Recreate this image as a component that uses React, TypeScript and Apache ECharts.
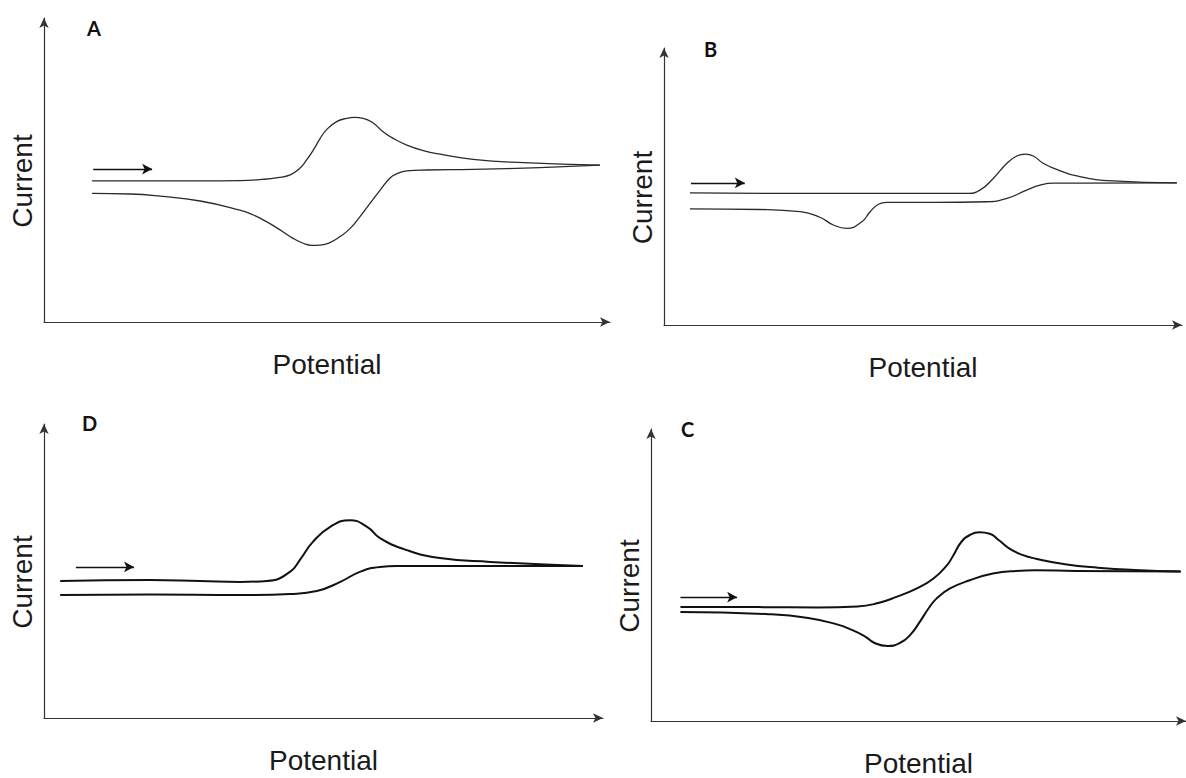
import React, { useEffect, useRef } from "react";
import * as echarts from "echarts";

// Panel A: [potential, current] in arbitrary units (0-100)
const aForward = [
  [8.5, 46.4], [18.7, 46.4], [27.6, 46.4], [34.6, 46.5], [38.5, 46.9], [41.3, 47.5],
  [43.5, 48.4], [45.2, 50.6], [46.4, 53.3], [47.6, 56.6], [48.8, 60.4], [49.9, 63.2],
  [51.7, 65.9], [53.5, 67.0], [54.9, 67.3], [56.4, 67.0], [58.2, 65.4], [59.9, 62.6],
  [61.7, 60.4], [64.1, 58.2], [67.0, 56.4], [70.0, 55.2], [75.8, 53.5], [84.7, 52.4],
  [98.2, 51.6],
];
const aReverse = [
  [98.2, 51.6], [87.6, 50.8], [75.8, 50.2], [67.6, 50.0], [64.1, 49.7], [62.3, 48.7],
  [61.1, 47.3], [59.4, 43.4], [57.6, 39.0], [55.8, 34.6], [54.1, 30.8], [52.3, 28.1],
  [50.5, 26.1], [48.8, 25.3], [47.3, 25.2], [45.8, 25.9], [44.0, 27.5], [41.7, 30.3],
  [39.3, 33.0], [37.0, 35.2], [34.6, 36.8], [27.6, 39.8], [20.5, 41.4], [15.2, 42.1],
  [8.5, 42.3],
];
const aArrow = [[8.7, 50.3], [19.1, 50.3]];

// Panel B
const bForward = [
  [5.0, 47.7], [22.4, 47.5], [41.7, 47.5], [58.4, 47.5], [61.0, 48.7], [63.6, 53.0],
  [66.2, 58.4], [68.1, 61.0], [69.7, 61.7], [71.3, 61.0], [73.2, 58.4], [75.8, 56.2],
  [79.7, 53.8], [86.7, 52.0], [99.0, 51.3],
];
const bReverse = [
  [99.0, 51.3], [80.3, 51.2], [75.2, 51.2], [72.6, 50.5], [70.0, 48.7], [66.2, 45.7],
  [62.3, 44.5], [52.0, 44.3], [43.0, 44.3], [41.4, 43.6], [39.8, 40.9], [38.2, 37.3],
  [35.3, 34.9], [32.7, 36.1], [30.1, 38.9], [26.3, 40.9], [18.5, 41.7], [5.0, 41.9],
];
const bArrow = [[5.2, 51.3], [15.6, 51.3]];

// Panel D
const dForward = [
  [2.9, 46.6], [19.0, 46.9], [27.9, 46.6], [35.1, 46.3], [39.9, 46.6], [44.0, 49.7],
  [46.0, 54.4], [48.1, 59.9], [51.2, 65.0], [54.7, 67.3], [57.8, 65.0], [60.1, 61.2],
  [64.9, 57.1], [70.8, 54.4], [79.8, 53.1], [96.4, 51.7],
];
const dReverse = [
  [96.4, 51.7], [63.1, 51.7], [60.1, 51.4], [56.5, 49.7], [53.0, 46.3], [48.8, 43.2],
  [44.0, 42.2], [35.1, 41.8], [19.0, 42.0], [2.9, 41.8],
];
const dArrow = [[5.7, 51.4], [16.1, 51.4]];

// Panel C
const cForward = [
  [5.5, 39.0], [20.1, 39.0], [31.2, 38.9], [38.6, 39.2], [42.3, 40.3], [46.0, 42.6],
  [49.7, 45.4], [52.8, 48.8], [55.3, 53.3], [56.5, 56.7], [58.0, 61.3], [59.6, 63.7],
  [61.4, 64.6], [63.3, 64.1], [65.1, 61.8], [67.0, 59.0], [69.4, 56.9], [71.9, 55.6],
  [77.4, 53.7], [83.5, 52.5], [90.4, 51.7], [99.0, 51.2],
];
const cReverse = [
  [99.0, 51.2], [79.3, 51.4], [71.9, 51.6], [68.2, 51.4], [63.9, 50.5], [59.6, 48.2],
  [55.9, 45.4], [53.4, 42.0], [51.9, 38.6], [50.3, 34.1], [48.5, 29.6], [46.6, 26.8],
  [44.2, 25.7], [41.7, 26.8], [39.9, 29.1], [37.4, 31.3], [34.9, 33.0], [29.4, 35.3],
  [22.0, 36.6], [5.5, 37.3],
];
const cArrow = [[5.5, 42.4], [16.1, 42.4]];

const panelLabels = ["A", "B", "D", "C"];
const xName = "Potential";
const yName = "Current";

const panels = [
  { label: panelLabels[0], forward: aForward, reverse: aReverse, arrow: aArrow,
    grid: { left: 44, top: 18, width: 566, height: 304 }, lw: 1.3, color: "#2a2a2a",
    labelPos: { left: 87, top: 18 } },
  { label: panelLabels[1], forward: bForward, reverse: bReverse, arrow: bArrow,
    grid: { left: 664, top: 48, width: 518, height: 277 }, lw: 1.3, color: "#2a2a2a",
    labelPos: { left: 704, top: 39 } },
  { label: panelLabels[2], forward: dForward, reverse: dReverse, arrow: dArrow,
    grid: { left: 44, top: 424, width: 559, height: 294 }, lw: 2, color: "#111",
    labelPos: { left: 82, top: 413 } },
  { label: panelLabels[3], forward: cForward, reverse: cReverse, arrow: cArrow,
    grid: { left: 651, top: 429, width: 541, height: 295 }, lw: 2, color: "#111",
    labelPos: { left: 681, top: 419 } },
];

export default function App() {
  const ref = useRef<HTMLDivElement>(null);
  useEffect(() => {
    if (!ref.current) return;
    const chart = echarts.init(ref.current, null, { renderer: "svg" });
    const axisLine = {
      show: true,
      onZero: false,
      symbol: ["none", "arrow"],
      symbolSize: [7, 10],
      lineStyle: { color: "#333", width: 1.2 },
    };
    const nameStyle = { fontFamily: "Liberation Sans, Arial, sans-serif", fontSize: 28, color: "#1a1a1a" };
    const option: any = {
      animation: false,
      backgroundColor: "#fff",
      title: panels.map((p) => ({
        text: p.label,
        left: p.labelPos.left,
        top: p.labelPos.top,
        padding: 0,
        textStyle: { fontFamily: "Lato, sans-serif", fontWeight: "bold", fontSize: 20, color: "#111" },
      })),
      grid: panels.map((p) => ({ ...p.grid, containLabel: false })),
      xAxis: panels.map((p, i) => ({
        type: "value", gridIndex: i, min: 0, max: 100,
        axisLine, axisTick: { show: false }, axisLabel: { show: false }, splitLine: { show: false },
        name: xName, nameLocation: "middle", nameGap: 28, nameTextStyle: nameStyle,
      })),
      yAxis: panels.map((p, i) => ({
        type: "value", gridIndex: i, min: 0, max: 100,
        axisLine, axisTick: { show: false }, axisLabel: { show: false }, splitLine: { show: false },
        name: yName, nameLocation: "middle", nameGap: 8,
        nameTextStyle: { ...nameStyle, padding: [0, 22, 0, 0] },
      })),
      series: panels.flatMap((p, i) => {
        const common = {
          type: "line", xAxisIndex: i, yAxisIndex: i, symbol: "none", showSymbol: false,
          smooth: 0.5, clip: false, silent: true,
          lineStyle: { width: p.lw, color: p.color },
        };
        return [
          {
            ...common, name: p.label + " forward", data: p.forward,
            markLine: {
              silent: true, symbol: ["none", "arrow"], symbolSize: [8, 10],
              label: { show: false },
              lineStyle: { type: "solid", color: "#111", width: 1.4 },
              data: [[{ coord: p.arrow[0] }, { coord: p.arrow[1] }]],
            },
          },
          { ...common, name: p.label + " reverse", data: p.reverse },
        ];
      }),
    };
    chart.setOption(option);
    return () => chart.dispose();
  }, []);
  return (
    <div
      ref={ref}
      style={{ position: "fixed", left: 0, top: 0, width: 1186, height: 778, background: "#fff" }}
    />
  );
}
